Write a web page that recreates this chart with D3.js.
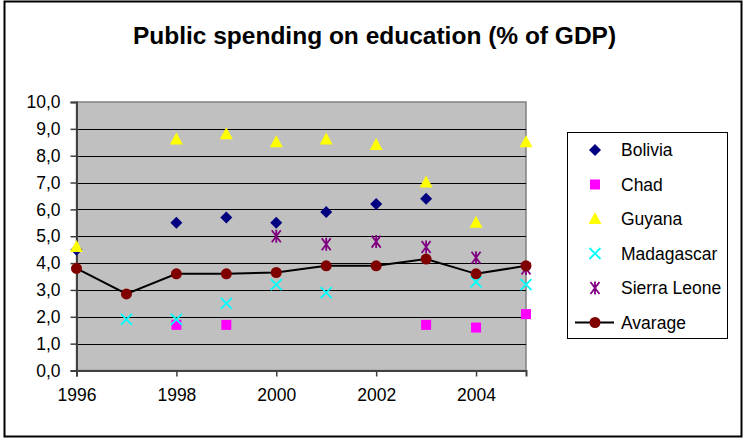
<!DOCTYPE html>
<html>
<head>
<meta charset="utf-8">
<script src="https://cdn.jsdelivr.net/npm/d3@7"></script>
<style>
  html, body { margin: 0; padding: 0; background: #fff; }
  svg { display: block; font-family: "Liberation Sans", Arial, sans-serif; }
</style>
</head>
<body>
<svg id="chart" width="743" height="439"></svg>
<script>
// Years on the category axis
const years = [1996, 1997, 1998, 1999, 2000, 2001, 2002, 2003, 2004, 2005];
const yearTickLabels = ["1996", "1998", "2000", "2002", "2004"];
const valueTicks = [0, 1, 2, 3, 4, 5, 6, 7, 8, 9, 10];

// Public spending on education, % of GDP (null = no data)
const bolivia     = [4.5, null, 5.5, 5.7, 5.5, 5.9, 6.2, 6.4, null, null];
const chad        = [null, null, 1.7, 1.7, null, null, null, 1.7, 1.6, 2.1];
const guyana      = [4.6, null, 8.6, 8.8, 8.5, 8.6, 8.4, 7.0, 5.5, 8.5];
const madagascar  = [null, 1.9, 1.9, 2.5, 3.2, 2.9, null, null, 3.3, 3.2];
const sierraLeone = [null, null, null, null, 5.0, 4.7, 4.8, 4.6, 4.2, 3.8];
const average     = [3.8, 2.85, 3.6, 3.6, 3.65, 3.9, 3.9, 4.15, 3.6, 3.9];

const seriesNames = ["Bolivia", "Chad", "Guyana", "Madagascar", "Sierra Leone", "Avarage"];
const seriesColors = ["#000080", "#FF00FF", "#FFFF00", "#00FFFF", "#800080", "#800000"];

const svg = d3.select("#chart");

// Outer chart frame
svg.append("rect")
  .attr("x", 4.5).attr("y", 1.5).attr("width", 737).attr("height", 435)
  .attr("fill", "#fff").attr("stroke", "#000").attr("stroke-width", 2);

// Title
svg.append("text")
  .attr("x", 374.5).attr("y", 43.5)
  .attr("text-anchor", "middle")
  .attr("font-size", "24.5px").attr("font-weight", "bold")
  .text("Public spending on education (% of GDP)");

const plot = { left: 76.5, right: 526, top: 102, bottom: 370.5 };

const x = d3.scaleLinear().domain([1996, 2005]).range([plot.left, plot.right]);
const y = d3.scaleLinear().domain([0, 10]).range([plot.bottom, plot.top]);

// Plot area background
svg.append("rect")
  .attr("x", plot.left).attr("y", plot.top)
  .attr("width", plot.right - plot.left).attr("height", plot.bottom - plot.top)
  .attr("fill", "#C0C0C0").attr("stroke", "#808080").attr("stroke-width", 1.5);

// Horizontal gridlines
svg.append("g")
  .selectAll("line")
  .data(valueTicks.filter(v => v > 0 && v < 10))
  .join("line")
  .attr("x1", plot.left).attr("x2", plot.right)
  .attr("y1", d => Math.round(y(d)) + 0.5).attr("y2", d => Math.round(y(d)) + 0.5)
  .attr("stroke", "#000").attr("stroke-width", 1);

// Value axis
const yAxis = d3.axisLeft(y)
  .tickValues(valueTicks)
  .tickSize(6)
  .tickPadding(10)
  .tickFormat(d => d3.format(".1f")(d).replace(".", ","));
const gy = svg.append("g").attr("transform", `translate(${plot.left},0)`).call(yAxis);
gy.select(".domain").attr("stroke", "#404040").attr("stroke-width", 2);
gy.selectAll(".tick line").attr("stroke", "#404040").attr("stroke-width", 1.5);
gy.selectAll(".tick text").attr("font-size", "17.5px").attr("fill", "#000")
  .attr("font-family", "Liberation Sans, Arial, sans-serif");

// Category axis
const xAxis = d3.axisBottom(x)
  .tickValues(yearTickLabels.map(Number))
  .tickSize(6)
  .tickPadding(12)
  .tickFormat(d3.format("d"));
const gx = svg.append("g").attr("transform", `translate(0,${plot.bottom})`).call(xAxis);
gx.select(".domain").attr("stroke", "#404040").attr("stroke-width", 2);
gx.selectAll(".tick line").attr("stroke", "#404040").attr("stroke-width", 1.5);
gx.selectAll(".tick text").attr("font-size", "17.5px").attr("fill", "#000")
  .attr("font-family", "Liberation Sans, Arial, sans-serif");

// Marker drawing helpers
const shapes = {
  diamond: (g, c) => g.append("path").attr("d", "M0,-6L6,0L0,6L-6,0Z").attr("fill", c),
  square: (g, c) => g.append("rect").attr("x", -5).attr("y", -5).attr("width", 10).attr("height", 10).attr("fill", c),
  triangle: (g, c) => g.append("path").attr("d", "M0,-7L6.5,5L-6.5,5Z").attr("fill", c),
  cross: (g, c) => g.append("path").attr("d", "M-5.5,-5.5L5.5,5.5M-5.5,5.5L5.5,-5.5")
    .attr("stroke", c).attr("stroke-width", 1.8).attr("fill", "none"),
  star: (g, c) => g.append("path").attr("d", "M-4.5,-6L4.5,6M-4.5,6L4.5,-6M0,-6.5L0,6.5")
    .attr("stroke", c).attr("stroke-width", 1.8).attr("fill", "none"),
  circle: (g, c) => g.append("circle").attr("r", 5.5).attr("fill", c)
};

const scatterSeries = [
  { values: bolivia, shape: "diamond", color: seriesColors[0] },
  { values: chad, shape: "square", color: seriesColors[1] },
  { values: guyana, shape: "triangle", color: seriesColors[2] },
  { values: madagascar, shape: "cross", color: seriesColors[3] },
  { values: sierraLeone, shape: "star", color: seriesColors[4] }
];

const marks = svg.append("g");
scatterSeries.forEach(s => {
  years.forEach((yr, i) => {
    if (s.values[i] == null) return;
    const g = marks.append("g").attr("transform", `translate(${x(yr)},${y(s.values[i])})`);
    shapes[s.shape](g, s.color);
  });
});

// Average line with circle markers
const avgData = years.map((yr, i) => ({ yr, v: average[i] }));
marks.append("path")
  .datum(avgData)
  .attr("fill", "none").attr("stroke", "#000").attr("stroke-width", 2)
  .attr("d", d3.line().x(d => x(d.yr)).y(d => y(d.v)));
avgData.forEach(d => {
  const g = marks.append("g").attr("transform", `translate(${x(d.yr)},${y(d.v)})`);
  shapes.circle(g, seriesColors[5]);
});

// Legend
const legend = svg.append("g");
legend.append("rect")
  .attr("x", 567.5).attr("y", 132.5).attr("width", 160).attr("height", 206)
  .attr("fill", "#fff").attr("stroke", "#000").attr("stroke-width", 1);
const legendShapes = ["diamond", "square", "triangle", "cross", "star", "circle"];
seriesNames.forEach((name, i) => {
  const cy = 150 + i * 34.5;
  const g = legend.append("g").attr("transform", `translate(595,${cy})`);
  if (legendShapes[i] === "circle") {
    g.append("line").attr("x1", -20).attr("x2", 19).attr("stroke", "#000").attr("stroke-width", 2);
  }
  shapes[legendShapes[i]](g, seriesColors[i]);
  legend.append("text")
    .attr("x", 621).attr("y", cy + 6)
    .attr("font-size", "17.5px")
    .text(name);
});
</script>
</body>
</html>
